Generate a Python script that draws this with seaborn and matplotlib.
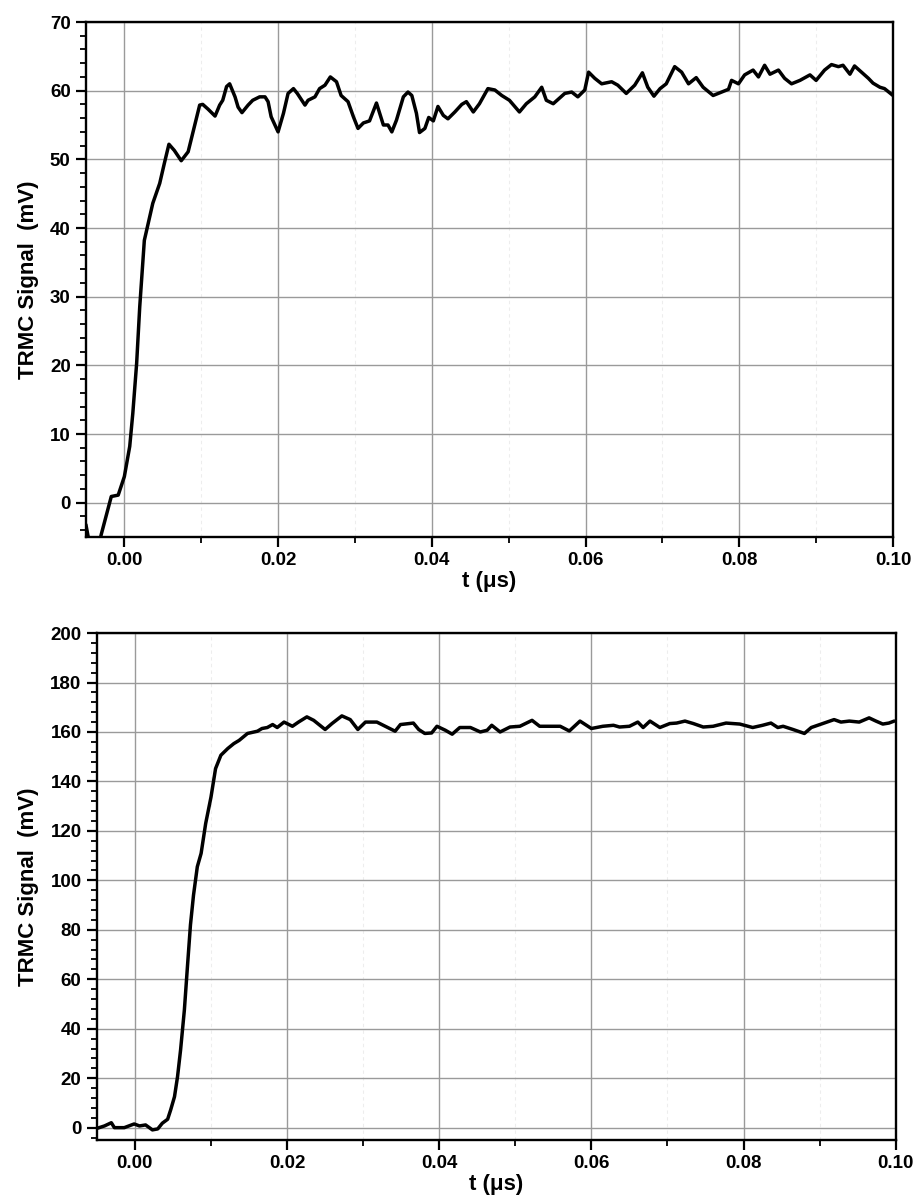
import numpy as np
import pandas as pd
import matplotlib
matplotlib.use("Agg")
import matplotlib.pyplot as plt
from matplotlib.ticker import MultipleLocator
import seaborn as sns

# upper panel trace (t in us, signal in mV)
t_top = [-0.0050, -0.0046, -0.0040, -0.0034, -0.0030, -0.0017, -0.0008, 0.0000,
         0.0007, 0.0011, 0.0016, 0.0020, 0.0026, 0.0037, 0.0046, 0.0052, 0.0058,
         0.0065, 0.0074, 0.0083, 0.0089, 0.0098, 0.0102, 0.0109, 0.0118, 0.0124,
         0.0128, 0.0133, 0.0137, 0.0144, 0.0148, 0.0153, 0.0161, 0.0167, 0.0176,
         0.0183, 0.0187, 0.0191, 0.0200, 0.0207, 0.0213, 0.0220, 0.0225, 0.0235,
         0.0239, 0.0248, 0.0254, 0.0261, 0.0268, 0.0276, 0.0282, 0.0291, 0.0298,
         0.0304, 0.0311, 0.0319, 0.0328, 0.0337, 0.0343, 0.0348, 0.0354, 0.0363,
         0.0369, 0.0374, 0.0380, 0.0384, 0.0391, 0.0396, 0.0402, 0.0408, 0.0415,
         0.0421, 0.0430, 0.0439, 0.0445, 0.0454, 0.0462, 0.0473, 0.0482, 0.0491,
         0.0501, 0.0514, 0.0523, 0.0534, 0.0543, 0.0549, 0.0558, 0.0573, 0.0582,
         0.0590, 0.0599, 0.0604, 0.0612, 0.0621, 0.0634, 0.0642, 0.0653, 0.0664,
         0.0674, 0.0681, 0.0689, 0.0697, 0.0705, 0.0716, 0.0725, 0.0734, 0.0744,
         0.0753, 0.0766, 0.0777, 0.0786, 0.0790, 0.0799, 0.0807, 0.0818, 0.0825,
         0.0833, 0.0840, 0.0851, 0.0859, 0.0868, 0.0879, 0.0892, 0.0900, 0.0911,
         0.0920, 0.0929, 0.0935, 0.0944, 0.0950, 0.0959, 0.0968, 0.0974, 0.0983,
         0.0989, 0.1000]
sig_top = [-3.2, -5.6, -8.0, -6.5, -4.6, 0.9, 1.1, 3.8,
           8.2, 13.0, 20.3, 28.5, 38.2, 43.6, 46.5, 49.4, 52.2,
           51.3, 49.8, 51.1, 53.8, 57.9, 58.0, 57.3, 56.3, 57.9,
           58.6, 60.6, 61.0, 59.1, 57.6, 56.8, 57.9, 58.6, 59.1,
           59.1, 58.4, 56.2, 54.0, 56.7, 59.6, 60.3, 59.6, 57.9,
           58.6, 59.1, 60.3, 60.8, 62.0, 61.3, 59.3, 58.4, 56.2,
           54.5, 55.3, 55.6, 58.2, 55.0, 55.0, 54.0, 55.7, 59.1,
           59.8, 59.3, 56.7, 53.9, 54.5, 56.1, 55.6, 57.7, 56.4,
           55.9, 56.9, 58.0, 58.4, 56.9, 58.1, 60.3, 60.1, 59.3,
           58.6, 56.9, 58.1, 59.1, 60.5, 58.6, 58.1, 59.6, 59.8,
           59.1, 60.1, 62.7, 61.8, 61.0, 61.3, 60.8, 59.6, 60.8,
           62.6, 60.5, 59.2, 60.3, 61.0, 63.5, 62.7, 61.0, 61.9,
           60.5, 59.3, 59.8, 60.2, 61.5, 61.0, 62.3, 63.0, 62.0,
           63.7, 62.4, 63.0, 61.8, 61.0, 61.5, 62.3, 61.5, 63.0,
           63.8, 63.5, 63.7, 62.4, 63.6, 62.7, 61.8, 61.1, 60.5,
           60.3, 59.3]

# lower panel trace
t_bot = [-0.0049, -0.0040, -0.0031, -0.0027, -0.0014, -0.0001, 0.0006, 0.0014,
         0.0023, 0.0030, 0.0036, 0.0043, 0.0047, 0.0052, 0.0056, 0.0060, 0.0065,
         0.0069, 0.0073, 0.0077, 0.0082, 0.0087, 0.0093, 0.0100, 0.0106, 0.0113,
         0.0122, 0.0130, 0.0137, 0.0148, 0.0161, 0.0167, 0.0174, 0.0181, 0.0187,
         0.0196, 0.0207, 0.0215, 0.0226, 0.0235, 0.0250, 0.0259, 0.0272, 0.0283,
         0.0293, 0.0303, 0.0318, 0.0331, 0.0342, 0.0349, 0.0366, 0.0373, 0.0381,
         0.0390, 0.0397, 0.0408, 0.0417, 0.0427, 0.0441, 0.0454, 0.0463, 0.0469,
         0.0480, 0.0493, 0.0506, 0.0522, 0.0532, 0.0546, 0.0559, 0.0571, 0.0585,
         0.0600, 0.0615, 0.0629, 0.0637, 0.0650, 0.0661, 0.0668, 0.0677, 0.0690,
         0.0703, 0.0712, 0.0723, 0.0734, 0.0747, 0.0760, 0.0777, 0.0795, 0.0812,
         0.0825, 0.0836, 0.0845, 0.0852, 0.0865, 0.0880, 0.0889, 0.0904, 0.0919,
         0.0928, 0.0939, 0.0952, 0.0965, 0.0974, 0.0983, 0.0991, 0.0998]
sig_bot = [-0.2, 0.7, 2.0, 0.0, 0.0, 1.5, 0.7, 1.1,
           -0.9, -0.5, 1.8, 3.4, 7.2, 12.5, 20.6, 31.4, 47.6,
           65.0, 82.0, 94.0, 105.5, 110.9, 123.0, 133.7, 145.2, 150.6,
           153.3, 155.3, 156.6, 159.4, 160.3, 161.4, 161.8, 163.0, 161.8,
           164.0, 162.3, 164.0, 166.1, 164.7, 161.0, 163.4, 166.5, 165.0,
           161.0, 164.0, 164.0, 162.0, 160.3, 163.0, 163.6, 161.0, 159.4,
           159.6, 162.3, 160.7, 159.1, 161.8, 161.8, 160.0, 160.7, 162.7,
           160.0, 162.0, 162.3, 164.7, 162.3, 162.3, 162.3, 160.4, 164.4,
           161.4, 162.3, 162.7, 162.0, 162.3, 164.0, 161.8, 164.4, 161.8,
           163.4, 163.6, 164.4, 163.4, 162.0, 162.3, 163.6, 163.2, 161.8,
           162.7, 163.6, 161.8, 162.3, 161.0, 159.4, 161.8, 163.4, 165.0,
           164.0, 164.4, 164.0, 165.7, 164.4, 163.2, 163.6, 164.4]

sns.set_style("ticks", {'text.color': 'black', 'axes.labelcolor': 'black',
                        'xtick.color': 'black', 'ytick.color': 'black'})
plt.rcParams['font.family'] = ['Liberation Sans', 'DejaVu Sans']
plt.rcParams['font.weight'] = 'bold'

fig = plt.figure(figsize=(9.14, 11.96), dpi=100)
ax1 = fig.add_axes([0.094, 0.551, 0.883, 0.4306])
ax2 = fig.add_axes([0.106, 0.0468, 0.874, 0.4239])


def style_panel(ax, ymin, ymax, ymajor, yminor):
    ax.set_xlim(-0.005, 0.10)
    ax.xaxis.set_minor_locator(MultipleLocator(0.01))
    ax.yaxis.set_major_locator(MultipleLocator(ymajor))
    ax.yaxis.set_minor_locator(MultipleLocator(yminor))
    ax.set_xticks(np.arange(0, 0.1001, 0.02))
    ax.set_xticklabels(['%.2f' % v for v in np.arange(0, 0.1001, 0.02)])
    ax.set_ylim(ymin, ymax)
    ax.grid(which='major', color='#9a9a9a', linewidth=1.0)
    ax.grid(which='minor', axis='x', color='#ededed', linewidth=0.8, linestyle=(0, (3, 3)))
    ax.set_axisbelow(True)
    for s in ax.spines.values():
        s.set_visible(True)
        s.set_linewidth(1.7)
        s.set_color('black')
    ax.tick_params(which='major', direction='out', length=7, width=1.6,
                   labelsize=13.5, pad=4, colors='black')
    ax.tick_params(which='minor', direction='out', length=4.3, width=1.3, colors='black')
    for lab in ax.get_xticklabels() + ax.get_yticklabels():
        lab.set_fontweight('bold')
    ax.set_ylabel('TRMC Signal  (mV)', fontsize=16, fontweight='bold', labelpad=8, color='black')
    ax.set_xlabel('t (μs)', fontsize=16, fontweight='bold', labelpad=1, color='black')


df_top = pd.DataFrame({'t': t_top, 'sig': sig_top})
df_bot = pd.DataFrame({'t': t_bot, 'sig': sig_bot})

sns.lineplot(data=df_top, x='t', y='sig', ax=ax1, color='black', linewidth=2.5, sort=False)
sns.lineplot(data=df_bot, x='t', y='sig', ax=ax2, color='black', linewidth=2.5, sort=False)

style_panel(ax1, -5, 70, 10, 2)
style_panel(ax2, -5, 200, 20, 4)

fig.savefig('out.png', dpi=100)
